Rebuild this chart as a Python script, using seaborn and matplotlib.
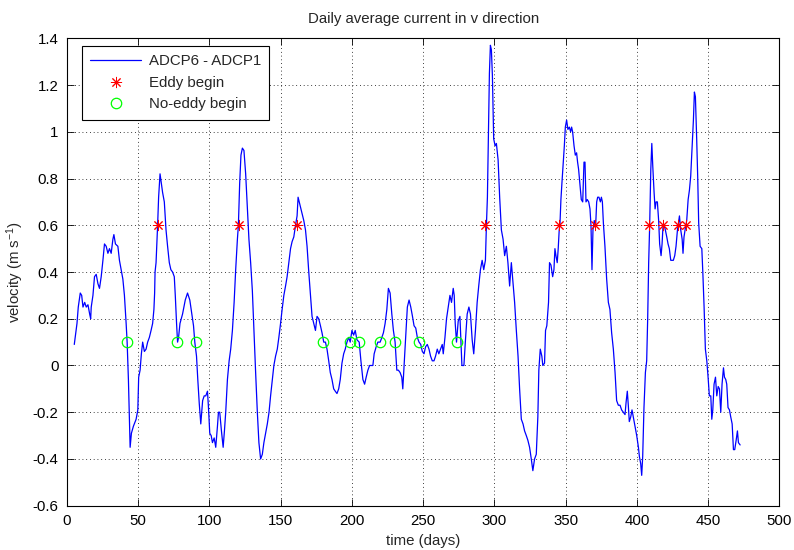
import matplotlib
matplotlib.use("Agg")
import matplotlib.pyplot as plt
import seaborn as sns
import pandas as pd

day = [
    5.1, 7.0, 7.9, 9.3, 10.3, 11.2, 12.4, 13.5, 14.7, 15.9,
    16.6, 17.0, 18.2, 19.3, 20.5, 21.7, 22.8, 24.0, 25.2, 26.3,
    27.5, 28.7, 29.8, 31.0, 32.2, 32.9, 34.0, 35.7, 36.8, 38.0,
    39.2, 40.3, 41.5, 42.2, 43.1, 43.8, 44.3, 45.2, 46.6, 48.5,
    49.7, 50.3, 51.3, 52.2, 53.1, 54.3, 55.5, 56.6, 57.8, 59.0,
    60.1, 61.0, 61.5, 61.8, 62.5, 63.6, 64.3, 65.3, 66.2, 67.1,
    68.3, 69.5, 70.6, 71.8, 72.9, 74.1, 75.3, 76.0, 76.9, 77.6,
    78.3, 79.3, 81.1, 83.0, 84.6, 86.2, 87.6, 88.8, 89.7, 90.9,
    91.8, 92.8, 93.9, 95.2, 96.3, 97.4, 98.6, 99.3, 100.2, 101.2,
    102.1, 103.3, 104.4, 105.6, 106.3, 107.2, 108.4, 109.6, 110.5, 111.4,
    112.6, 113.8, 114.9, 116.1, 117.3, 118.4, 119.6, 120.3, 121.2, 122.1,
    123.1, 124.2, 125.4, 126.6, 127.7, 128.9, 130.1, 131.2, 132.4, 133.6,
    134.7, 135.9, 137.1, 138.2, 139.4, 140.6, 141.8, 142.9, 144.1, 145.2,
    146.4, 147.6, 148.7, 149.9, 151.0, 152.2, 153.4, 154.5, 155.7, 156.9,
    158.0, 159.2, 160.4, 161.5, 162.2,
    165.0, 166.2, 167.4, 168.5, 169.7, 170.9, 172.0, 173.2, 174.4, 175.5,
    176.7, 177.9, 179.0, 180.2, 181.4, 182.5, 183.7, 184.8, 186.0, 187.2,
    188.3, 189.5, 190.7, 191.8, 193.0, 194.2, 195.3, 196.5, 197.7, 198.8,
    200.0, 201.2, 202.3, 203.5, 205.1, 206.3, 207.7, 208.9, 210.0, 211.2,
    212.4, 213.5, 214.7, 215.6, 217.0, 218.2, 219.8, 221.0, 222.1, 223.3,
    224.5, 225.6, 226.8, 228.0, 229.1, 230.3, 231.5, 232.6, 233.8, 235.0,
    235.7, 236.6, 238.0, 238.9, 240.1, 241.3, 242.5, 243.6, 244.8, 245.9,
    247.1, 248.3, 249.4, 250.6, 251.7, 252.9, 254.1, 255.2, 256.4, 257.6,
    258.7, 259.9, 261.0, 262.2, 263.4, 264.1, 265.3, 266.4, 267.6, 268.8,
    269.9, 271.1, 271.8, 272.5, 273.4, 274.6, 275.8, 276.5, 277.2, 278.6,
    279.7, 280.9, 282.1, 283.2, 284.4, 285.5, 286.7, 287.9, 289.0, 290.2,
    291.4, 292.5, 293.7, 294.4, 295.1, 295.8, 296.5, 297.2, 297.9, 298.6,
    299.5, 300.5, 301.4, 302.6, 303.7, 304.9, 306.1, 307.2, 308.4, 309.5,
    310.7, 311.9, 313.1, 314.2, 315.4, 316.6, 317.7, 318.9, 320.1, 321.2,
    322.4, 323.5, 324.7, 325.9, 327.0, 328.2, 329.4, 330.5, 331.2, 332.2,
    333.3, 334.0, 335.2, 335.9, 336.8, 338.0, 338.7,
    339.7, 340.9, 341.8, 342.5, 343.2, 344.1, 344.8, 345.5, 346.0, 346.7,
    347.4, 348.4, 349.1, 349.8, 350.7, 351.6, 352.6, 353.5, 354.2, 354.9,
    355.9, 356.8, 357.7, 358.4, 359.1, 360.1, 361.0, 362.0, 362.9, 363.6,
    364.3, 365.2, 366.2, 367.1, 367.8, 368.5, 369.2, 370.1, 371.1, 371.8,
    372.5, 373.4, 374.4, 375.1, 375.8, 376.5, 377.6, 378.8, 380.0, 381.1,
    382.3, 383.5, 384.7, 385.8, 387.0, 388.2, 389.3, 390.5, 391.7, 392.4,
    393.3, 394.0, 394.7, 395.7, 396.6, 397.5, 398.7, 399.9, 401.1, 401.8,
    402.7, 403.4, 404.1, 405.0, 406.0, 406.9, 407.6, 408.3, 409.0, 409.8,
    410.5, 411.2, 412.1, 412.8, 413.5, 414.4, 415.3, 416.0, 417.0, 417.7,
    418.4, 419.1, 420.0, 421.0, 421.9, 422.8, 423.8, 424.7, 425.6, 426.6,
    427.5, 428.5, 429.2, 429.9, 430.8, 431.8, 432.4, 433.1, 434.1, 435.0,
    436.0, 436.9, 437.8, 438.8, 439.7, 440.4, 441.1, 442.0, 442.7, 443.4,
    444.4, 445.6, 446.3, 447.2, 448.1, 449.1, 450.0, 450.9, 451.9, 452.6,
    453.3, 454.2, 455.2, 456.1, 457.1, 458.0, 458.9, 459.8, 460.8, 461.5,
    462.4, 463.1, 464.0, 465.0, 465.9, 466.9, 467.8, 468.7, 469.7, 470.6,
    471.3, 472.5,
]

velocity = [
    0.09, 0.18, 0.25, 0.31, 0.30, 0.25, 0.27, 0.25, 0.26, 0.22,
    0.20, 0.25, 0.30, 0.38, 0.39, 0.35, 0.33, 0.38, 0.45, 0.52,
    0.51, 0.48, 0.50, 0.48, 0.54, 0.56, 0.52, 0.51, 0.45, 0.41,
    0.37, 0.30, 0.18, 0.10, -0.06, -0.23, -0.35, -0.29, -0.26, -0.23,
    -0.19, -0.05, -0.02, 0.05, 0.10, 0.06, 0.07, 0.10, 0.12, 0.15,
    0.18, 0.24, 0.31, 0.40, 0.44, 0.60, 0.72, 0.82, 0.78, 0.74,
    0.70, 0.58, 0.51, 0.44, 0.41, 0.40, 0.38, 0.30, 0.18, 0.10,
    0.12, 0.18, 0.22, 0.28, 0.31, 0.28, 0.22, 0.17, 0.10, 0.04,
    -0.06, -0.16, -0.25, -0.15, -0.13, -0.13, -0.11, -0.18, -0.29, -0.30,
    -0.33, -0.31, -0.35, -0.26, -0.20, -0.20, -0.28, -0.35, -0.28, -0.20,
    -0.06, 0.02, 0.07, 0.15, 0.27, 0.41, 0.54, 0.60, 0.78, 0.90,
    0.93, 0.92, 0.82, 0.67, 0.54, 0.44, 0.32, 0.15, -0.03, -0.20,
    -0.33, -0.40, -0.38, -0.33, -0.29, -0.25, -0.20, -0.13, -0.06, 0.00,
    0.04, 0.07, 0.12, 0.18, 0.24, 0.30, 0.34, 0.38, 0.44, 0.50,
    0.53, 0.55, 0.60, 0.64, 0.72,
    0.65, 0.62, 0.58, 0.51, 0.40, 0.30, 0.21, 0.18, 0.15, 0.21,
    0.20, 0.17, 0.14, 0.10, 0.10, 0.07, 0.02, -0.03, -0.06, -0.10,
    -0.11, -0.12, -0.10, -0.06, 0.01, 0.05, 0.07, 0.10, 0.12, 0.10,
    0.15, 0.13, 0.15, 0.11, 0.10, 0.02, -0.06, -0.08, -0.05, -0.02,
    0.00, 0.00, 0.00, 0.05, 0.08, 0.10, 0.10, 0.12, 0.14, 0.18,
    0.24, 0.33, 0.31, 0.22, 0.15, 0.10, -0.02, -0.02, -0.03, -0.05,
    -0.10, 0.00, 0.15, 0.25, 0.28, 0.25, 0.21, 0.17, 0.16, 0.12,
    0.10, 0.09, 0.06, 0.05, 0.08, 0.09, 0.07, 0.04, 0.02, 0.02,
    0.04, 0.07, 0.05, 0.07, 0.09, 0.05, 0.12, 0.20, 0.25, 0.30,
    0.27, 0.33, 0.30, 0.18, 0.10, 0.19, 0.21, 0.11, 0.00, 0.00,
    0.11, 0.22, 0.25, 0.22, 0.11, 0.05, 0.15, 0.27, 0.34, 0.41,
    0.45, 0.41, 0.45, 0.60, 0.72, 0.98, 1.25, 1.37, 1.35, 1.24,
    0.97, 0.94, 0.95, 0.88, 0.72, 0.58, 0.54, 0.47, 0.51, 0.44,
    0.34, 0.44, 0.35, 0.27, 0.15, 0.04, -0.10, -0.23, -0.25, -0.28,
    -0.30, -0.32, -0.35, -0.40, -0.45, -0.40, -0.38, -0.22, -0.02, 0.07,
    0.04, 0.00, 0.01, 0.15, 0.17, 0.27, 0.44,
    0.43, 0.38, 0.41, 0.50, 0.47, 0.44, 0.50, 0.58, 0.60, 0.71,
    0.78, 0.87, 0.94, 1.02, 1.05, 1.01, 1.02, 1.00, 1.02, 1.00,
    0.94, 0.90, 0.91, 0.87, 0.84, 0.77, 0.71, 0.70, 0.87, 0.87,
    0.70, 0.71, 0.70, 0.67, 0.60, 0.41, 0.58, 0.62, 0.60, 0.70,
    0.72, 0.72, 0.70, 0.72, 0.70, 0.61, 0.51, 0.37, 0.27, 0.24,
    0.14, 0.07, -0.03, -0.15, -0.17, -0.17, -0.19, -0.20, -0.21, -0.16,
    -0.11, -0.17, -0.24, -0.22, -0.19, -0.22, -0.26, -0.30, -0.35, -0.39,
    -0.42, -0.47, -0.39, -0.18, -0.03, 0.02, 0.20, 0.44, 0.60, 0.84,
    0.95, 0.85, 0.74, 0.67, 0.70, 0.70, 0.62, 0.52, 0.47, 0.52,
    0.60, 0.60, 0.58, 0.55, 0.52, 0.50, 0.45, 0.45, 0.45, 0.47,
    0.51, 0.58, 0.61, 0.64, 0.58, 0.54, 0.48, 0.55, 0.59, 0.62,
    0.71, 0.75, 0.81, 0.94, 1.05, 1.17, 1.15, 0.97, 0.81, 0.61,
    0.51, 0.50, 0.40, 0.25, 0.07, 0.02, -0.05, -0.13, -0.13, -0.23,
    -0.19, -0.08, -0.05, -0.13, -0.09, -0.10, -0.20, -0.08, -0.01, -0.05,
    -0.06, -0.08, -0.18, -0.19, -0.22, -0.25, -0.36, -0.36, -0.32, -0.28,
    -0.33, -0.34,
]

eddy_day = [63.9, 120.5, 161.3, 293.7, 345.5, 370.6, 408.6, 418.5, 429.2, 434.5]
eddy_v = [0.6] * len(eddy_day)
noeddy_day = [41.8, 77.1, 90.2, 180.0, 198.8, 204.7, 219.8, 230.3, 247.1, 273.6]
noeddy_v = [0.1] * len(noeddy_day)

xticks = list(range(0, 501, 50))
yticks = [-0.6, -0.4, -0.2, 0, 0.2, 0.4, 0.6, 0.8, 1, 1.2, 1.4]
ytick_labels = ["-0.6", "-0.4", "-0.2", "0", "0.2", "0.4", "0.6", "0.8", "1", "1.2", "1.4"]

assert len(day) == len(velocity), (len(day), len(velocity))

sns.set_style("white")
plt.rcParams["font.family"] = ["Liberation Sans", "DejaVu Sans"]
plt.rcParams["mathtext.default"] = "regular"
FS = 10.8
plt.rcParams["font.size"] = FS

fig = plt.figure(figsize=(7.94, 5.5), dpi=100)
ax = fig.add_axes([0.0844, 0.0805, 0.8971, 0.8499])

df = pd.DataFrame({"day": day, "velocity": velocity})
sns.lineplot(data=df, x="day", y="velocity", ax=ax, color=(0, 0, 1),
             linewidth=0.9, estimator=None, sort=False, label="ADCP6 - ADCP1")
ax.plot(eddy_day, eddy_v, linestyle="none", marker=(8, 2, 0), markersize=8,
        markeredgewidth=0.7, color="red", label="Eddy begin")
ax.plot(noeddy_day, noeddy_v, linestyle="none", marker="o", markersize=7.5,
        markeredgewidth=0.9, markerfacecolor="none", markeredgecolor=(0, 1, 0),
        label="No-eddy begin")

ax.set_xlim(0, 500)
ax.set_ylim(-0.6, 1.4)
ax.set_xticks(xticks)
ax.set_yticks(yticks)
ax.set_yticklabels(ytick_labels)
ax.grid(True, color="black", linestyle=(0, (1, 3.5)), linewidth=0.6)
ax.tick_params(direction="in", length=5, width=0.6, top=True, right=True,
               bottom=True, left=True, labelsize=FS, colors="black")
ax.tick_params(axis="x", pad=6)
ax.tick_params(axis="y", pad=6)
for sp in ax.spines.values():
    sp.set_visible(True)
    sp.set_color("black")
    sp.set_linewidth(0.8)

ax.set_title("Daily average current in v direction", fontsize=FS, pad=11)
ax.set_xlabel("time (days)", fontsize=FS, labelpad=4)
ax.set_ylabel("velocity (m s$^{-1}$)", fontsize=FS, labelpad=5)

leg = ax.legend(loc="upper left", bbox_to_anchor=(0.021, 0.983), borderaxespad=0,
                fancybox=False, framealpha=1, edgecolor="black", fontsize=FS,
                handlelength=3.4, labelspacing=0.5, numpoints=1,
                borderpad=0.55, handletextpad=0.5)
leg.get_frame().set_linewidth(0.8)

fig.savefig("out.png", dpi=100, facecolor="white")
